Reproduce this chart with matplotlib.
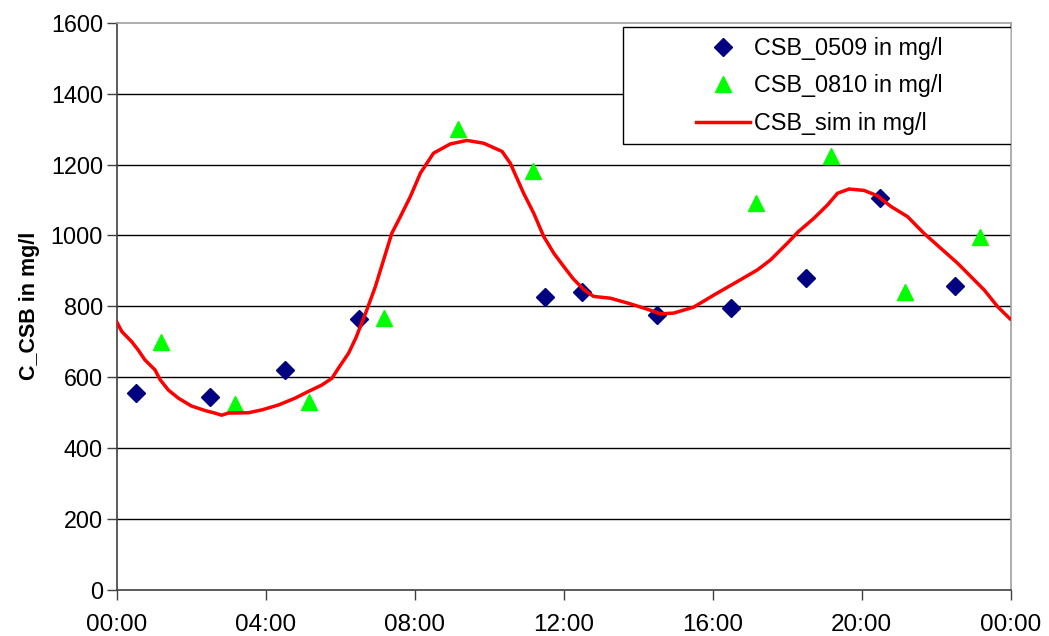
import matplotlib

matplotlib.use("Agg")
import matplotlib.pyplot as plt
from matplotlib.patches import Rectangle
from matplotlib.ticker import FuncFormatter, MultipleLocator

plt.rcParams["font.family"] = ["Liberation Sans", "DejaVu Sans"]

# measured series (time in hours of day)
t_0509 = [0.5, 2.5, 4.5, 6.5, 11.5, 12.5, 14.5, 16.5, 18.5, 20.5, 22.5]
csb_0509 = [555, 545, 620, 765, 825, 840, 775, 795, 880, 1105, 858]

t_0810 = [1.17, 3.17, 5.17, 7.17, 9.17, 11.17, 17.17, 19.17, 21.17, 23.17]
csb_0810 = [700, 525, 530, 768, 1300, 1183, 1092, 1225, 840, 995]

# simulated curve
t_sim = [0.0, 0.13, 0.39, 0.57, 0.75, 1.02, 1.16, 1.38, 1.65, 2.0, 2.37,
         2.63, 2.81, 2.99, 3.53, 3.89, 4.34, 4.78, 5.14, 5.5, 5.77, 5.95,
         6.22, 6.42, 6.71, 6.94, 7.16, 7.38, 7.61, 7.88, 8.15, 8.5, 8.95,
         9.4, 9.85, 10.34, 10.56, 10.92, 11.19, 11.46, 11.73, 12.0, 12.25,
         12.54, 12.8, 13.25, 13.79, 14.24, 14.6, 14.95, 15.49, 16.03, 16.66,
         17.2, 17.55, 18.0, 18.3, 18.7, 19.08, 19.35, 19.66, 20.06, 20.42,
         20.78, 21.23, 21.67, 22.12, 22.57, 22.93, 23.29, 23.65, 23.98]
csb_sim = [755, 729, 701, 677, 649, 621, 593, 564, 541, 519, 506,
           499, 493, 499, 500, 508, 522, 541, 560, 578, 597, 626,
           668, 712, 790, 856, 931, 1006, 1053, 1110, 1176, 1232, 1258,
           1268, 1260, 1237, 1204, 1119, 1063, 997, 950, 912, 878,
           847, 828, 823, 807, 792, 779, 781, 798, 832, 870,
           903, 931, 978, 1011, 1047, 1086, 1119, 1131, 1127, 1112,
           1082, 1053, 1006, 964, 922, 884, 846, 799, 765]

fig = plt.figure(figsize=(10.49, 6.36), dpi=100)
ax = fig.add_axes([0.1115, 0.0723, 0.852, 0.892])

for y in range(200, 1600, 200):
    ax.axhline(y, color="black", lw=1.0, zorder=1)

ax.plot(t_0509, csb_0509, ls="none", marker="D", ms=9.5, color="#000080",
        mec="#000080", label="CSB_0509 in mg/l", zorder=3)
ax.plot(t_0810, csb_0810, ls="none", marker="^", ms=12, color="#00ff00",
        mec="#00ff00", label="CSB_0810 in mg/l", zorder=3)
ax.plot(t_sim, csb_sim, color="#ff0000", lw=2.5, label="CSB_sim in mg/l",
        zorder=4)

ax.set_xlim(0, 24)
ax.set_ylim(0, 1600)
ax.xaxis.set_major_locator(MultipleLocator(4))
ax.yaxis.set_major_locator(MultipleLocator(200))
ax.xaxis.set_major_formatter(FuncFormatter(lambda v, p: f"{int(v) % 24:02d}:00"))
ax.tick_params(axis="both", direction="out", length=7, width=1,
               color="#404040")
ax.tick_params(axis="y", labelsize=16.8, pad=3)
ax.tick_params(axis="x", labelsize=17.5, pad=10)

for side in ("left", "bottom"):
    ax.spines[side].set_color("#404040")
    ax.spines[side].set_linewidth(1.2)
for side in ("top", "right"):
    ax.spines[side].set_color("#a0a0a0")
    ax.spines[side].set_linewidth(1.2)

ax.set_ylabel("C_CSB in mg/l", fontsize=15.5, fontweight="bold", labelpad=8)

# legend box (wide frame like the original), entries drawn without frame
ax.add_patch(Rectangle((0.566, 0.786), 0.434, 0.206, transform=ax.transAxes,
                       facecolor="white", edgecolor="black", lw=1.0,
                       zorder=5))
leg = ax.legend(loc="upper left", bbox_to_anchor=(0.648, 0.975),
                fontsize=16.8, frameon=False, handlelength=2.3,
                borderpad=0, labelspacing=0.62, handletextpad=0.2,
                borderaxespad=0)
leg.set_zorder(6)

fig.savefig("out.png", dpi=100)
